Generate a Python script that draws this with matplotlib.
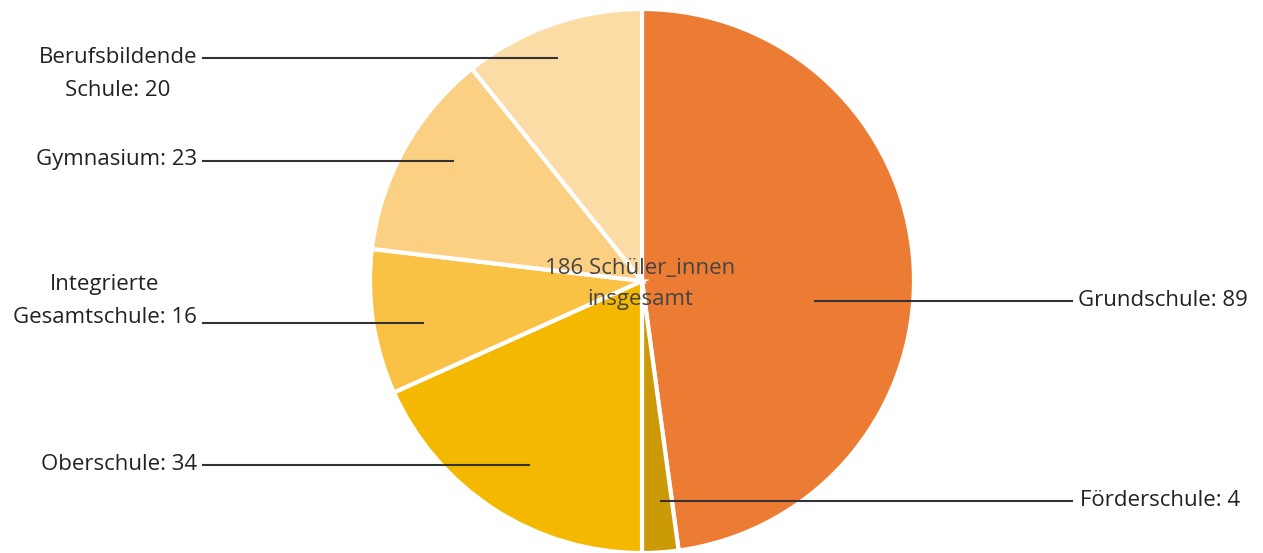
import matplotlib.pyplot as plt

# Daten
schularten = ['Grundschule', 'Förderschule', 'Oberschule',
              'Integrierte\nGesamtschule', 'Gymnasium', 'Berufsbildende\nSchule']
anzahl = [89, 4, 34, 16, 23, 20]
farben = ['#EC7C33', '#CC9A06', '#F4B800', '#F9C244', '#FBD083', '#FCDCA5']

plt.rcParams['font.family'] = ['Open Sans', 'DejaVu Sans']

H = 553
fig = plt.figure(figsize=(12.63, 5.53), dpi=100)
ax = fig.add_axes([0, 0, 1, 1])

# Tortendiagramm im Pixel-Koordinatensystem
ax.pie(anzahl, colors=farben, startangle=90, counterclock=False,
       center=(642, H - 281), radius=272,
       wedgeprops=dict(edgecolor='white', linewidth=3))
ax.set_xlim(0, 1263)
ax.set_ylim(0, H)
ax.set_aspect('equal')
ax.axis('off')

# Beschriftungen: (x_text, y_text, linie_von, linie_bis, y_linie, ausrichtung)
positionen = [
    (1078, 301, 815, 1072, 301, 'left'),
    (1080, 501, 661, 1072, 501, 'left'),
    (197, 465, 203, 529, 465, 'right'),
    (197, 301, 203, 423, 323, 'right'),
    (197, 74, 203, 557, 58, 'right'),
]
positionen.insert(4, (197, 160, 203, 453, 161, 'right'))

for name, n, (xt, yt, x0, x1, yl, ha) in zip(schularten, anzahl, positionen):
    ax.plot([x0, x1], [H - yl, H - yl], color='#333333', lw=1.5)
    ax.text(xt, H - yt, f'{name}: {n}', ha=ha, va='center', fontsize=16,
            color='#222222', linespacing=1.75, multialignment='center')

ax.text(640, H - 284, '186 Schüler_innen\ninsgesamt', ha='center', va='center',
        fontsize=16, color='#444444', linespacing=1.6)

fig.savefig('out.png', dpi=100)
